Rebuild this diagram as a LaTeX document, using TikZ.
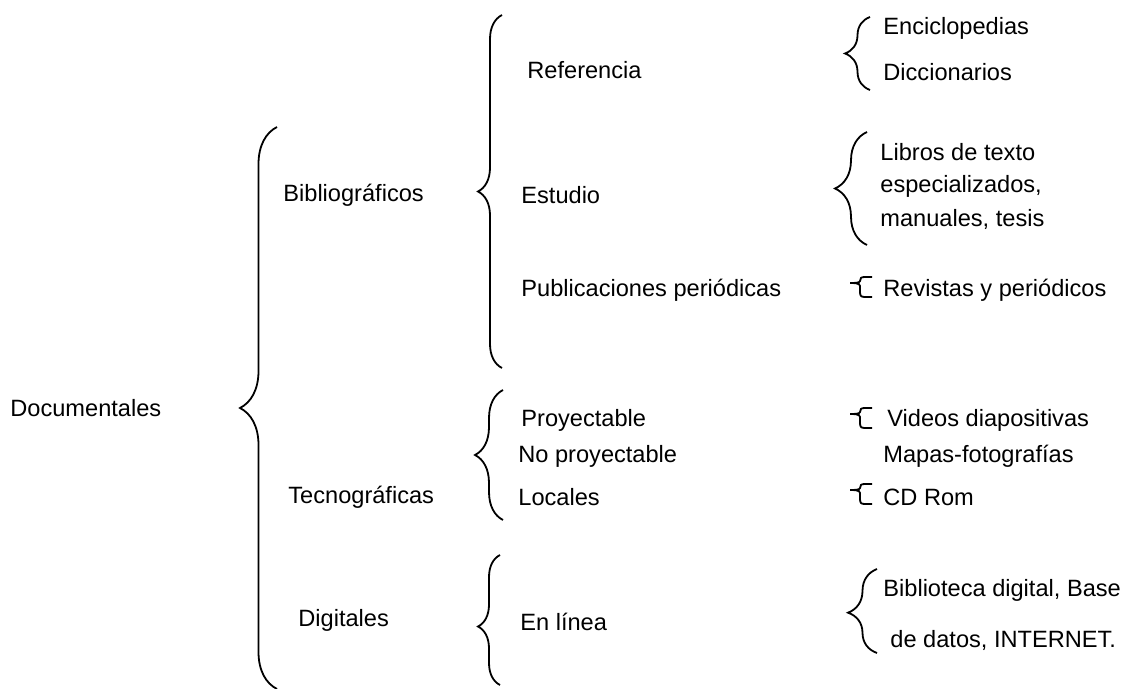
\documentclass[tikz,border=0pt]{standalone}
\usepackage{fontspec}
\setmainfont{Liberation Sans}
\usetikzlibrary{positioning,decorations.pathreplacing}

\tikzset{
  sbrace/.pic={\draw[line width=0.9pt] (22,-6) -- (15,-6) .. controls (11,-6) and (10,-5) .. (10,-2)
    .. controls (10,0) and (4,0) .. (0,0) .. controls (4,0) and (10,0) .. (10,3) -- (10,9)
    .. controls (10,13) and (11,14) .. (15,14) -- (22,14);}
}

\begin{document}
\begin{tikzpicture}[x=0.5pt,y=-0.5pt,
  every node/.style={anchor=west,inner sep=0pt,font=\fontsize{11.8}{14}\selectfont},
  brc/.style={decorate,decoration={brace,amplitude=#1},line width=0.9pt}]
\useasboundingbox (0,0) rectangle (1127,689);

% first level
\node (doc) at (10,408) {Documentales};
\node (bib) at (283,195) {Bibliográficos};
\node (tec) at (288,497) {Tecnográficas};
\node (dig) at (298,620) {Digitales};

% second level
\node (ref) at (527,70) {Referencia};
\node (est) at (521,195) {Estudio};
\node (pub) at (521,290) {Publicaciones periódicas};
\node (pro) at (521,420) {Proyectable};
\node (nop) at (518,456) {No proyectable};
\node (loc) at (518,497) {Locales};
\node (lin) at (520,622) {En línea};

% third level
\node (enc) at (883,28) {Enciclopedias};
\node (dic) at (883,72) {Diccionarios};
\node (lib1) at (880,152) {Libros de texto};
\node (lib2) at (880,186) {especializados,};
\node (lib3) at (880,219) {manuales, tesis};
\node (rev) at (883,290) {Revistas y periódicos};
\node (vid) at (887,420) {Videos diapositivas};
\node (map) at (883,456) {Mapas-fotografías};
\node (cdr) at (883,497) {CD Rom};
\node (bd1) at (883,590) {Biblioteca digital, Base};
\node (bd2) at (890,640) {de datos, INTERNET.};

% braces
\draw[brc=18.5pt] (277,689) -- (277,127);
\draw[brc=12pt] (502,368) -- (502,15);
\draw[brc=14pt] (503,520) -- (503,390);
\draw[brc=11pt,decoration={aspect=0.45}] (500,685) -- (500,555);
\draw[brc=12.5pt] (870,90) -- (870,17);
\draw[brc=16pt] (867,245) -- (867,132);
\draw[brc=14.5pt,decoration={aspect=0.48}] (877,653) -- (877,569);
\pic at (850,283) {sbrace};
\pic at (850,414) {sbrace};
\pic at (850,490) {sbrace};
\end{tikzpicture}
\end{document}
